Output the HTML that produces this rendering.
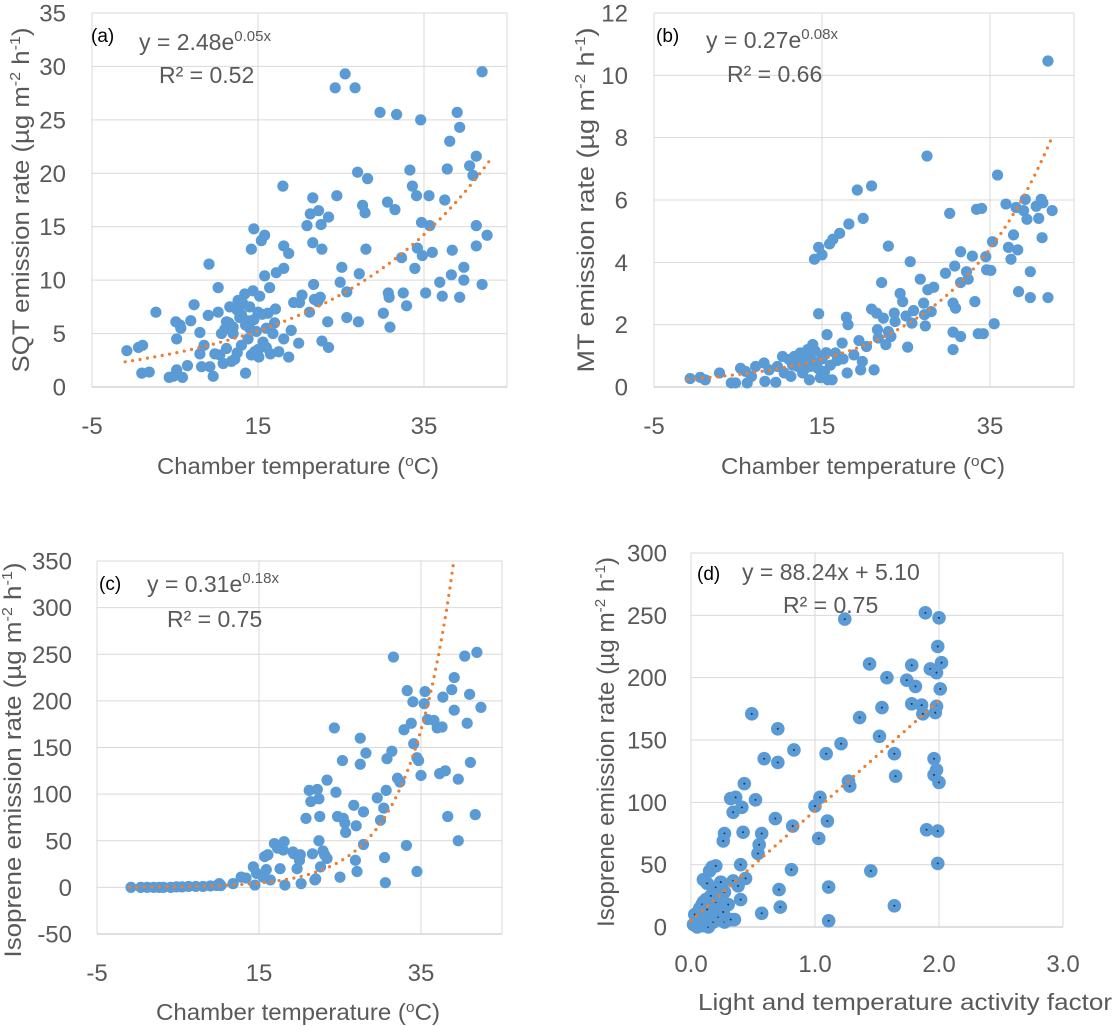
<!DOCTYPE html>
<html><head><meta charset="utf-8">
<style>
html,body{margin:0;padding:0;background:#fff;}
svg{display:block;font-family:"Liberation Sans",sans-serif;}
</style></head>
<body>
<svg id="fig" width="1113" height="1026" viewBox="0 0 1113 1026" xmlns="http://www.w3.org/2000/svg"></svg>
<script>
// ---- Panel (a) data: SQT vs chamber temperature ----
const aTemp = [-0.8,0.6,1.1,1.0,1.9,2.7,4.3,4.8,5.2,5.1,5.6,5.7,5.2,5.9,6.5,6.9,7.3,8.0,8.0,8.2,8.5,9.0,9.1,9.2,9.6,10.2,10.2,10.6,10.4,9.8,11.2,11.6,11.2,12.0,12.2,12.6,12.8,13.0,13.5,13.4,13.7,14.0,14.2,14.5,14.4,14.6,15.1,15.4,15.8,15.8,15.6,16.0,16.4,16.8,17.1,17.2,18.0,18.1,18.1,18.7,18.1,18.7,19.3,19.9,20.3,20.9,21.3,21.6,21.6,21.7,21.2,22.3,22.6,22.7,22.5,22.7,23.5,23.5,23.4,24.3,24.5,24.9,25.1,25.5,25.7,25.7,26.7,27.0,27.1,27.2,27.6,27.9,28.0,28.2,29.7,30.1,30.6,30.7,30.8,30.9,31.5,31.7,32.3,32.5,32.9,33.3,33.6,33.9,34.1,34.2,34.6,34.7,34.8,35.2,35.6,35.7,36.0,36.9,37.2,37.5,37.8,38.1,38.3,38.4,39.0,39.3,39.3,39.8,39.8,40.5,40.9,41.3,41.3,41.3,42.0,42.0,42.6,11.5,12.5,13,13.5,14,14.5,15,15.5,13.2,12,14.8,16,11,13.8,15.2,16.2,17,14.2,15,12.5,11.8,10.8,16.5,17.5,19,20,21.8,22.2];
const aRate = [3.4,3.7,3.9,1.3,1.4,7.0,0.9,1.0,1.6,6.1,5.8,5.5,4.5,0.9,2.0,6.2,7.7,5.1,3.1,1.9,3.9,6.7,11.5,1.9,1.0,9.3,7.0,5.0,3.0,3.1,3.6,7.5,6.1,5.6,2.6,8.1,6.5,3.9,1.3,8.7,6.2,5.5,12.9,14.8,9.0,3.3,2.8,13.7,14.2,10.4,4.2,3.7,9.3,5.0,7.3,10.7,18.8,13.2,11.1,12.5,4.5,2.8,7.9,4.1,8.6,15.1,16.2,17.7,13.5,9.6,7.0,16.5,15.2,12.9,8.4,4.3,3.7,15.9,6.1,28.0,17.9,9.8,11.2,29.3,8.9,6.5,28.0,20.1,6.1,10.6,17.0,16.3,12.9,19.5,25.7,6.9,17.3,8.8,8.4,5.6,16.6,25.5,12.1,8.8,7.6,20.3,18.8,11.1,17.9,13.0,25.0,15.4,12.3,8.8,17.9,15.1,12.6,9.8,8.5,17.5,20.4,23.0,10.5,12.8,25.7,24.3,8.4,11.2,10.0,20.7,19.8,21.6,15.1,13.2,29.5,9.6,14.2,6.0,7.2,6.8,5.8,7.5,6.3,7.0,6.8,7.8,5.0,5.2,5.5,5.4,4.5,8.5,6.9,6.0,3.0,3.5,3.2,2.4,2.2,3.1,3.3,5.3,7.9,8.2,8.0];
// ---- Panel (b) data: MT vs chamber temperature ----
const bTemp = [-0.7,0.5,1.1,2.8,4.2,4.7,5.3,5.9,6.1,6.6,7.1,8.1,8.2,8.7,9.5,9.7,10.3,10.5,11.1,11.3,11.7,12.1,12.4,12.7,13.1,13.3,13.5,13.6,13.9,14.1,14.6,14.6,15.0,15.1,15.6,15.7,15.9,16.2,16.3,16.6,17.1,17.4,17.9,18.1,18.0,18.2,18.8,19.2,19.4,19.6,19.8,19.9,20.3,20.9,20.9,21.2,21.5,21.6,21.7,22.1,22.3,22.6,22.9,22.9,23.2,23.6,23.7,24.3,24.6,25.0,25.2,25.5,25.7,25.9,26.7,27.1,27.2,27.3,27.5,27.6,28.0,28.3,29.7,30.2,30.6,30.6,30.6,30.8,30.9,31.5,31.5,31.5,32.2,32.4,32.9,33.2,33.4,33.6,34.0,34.2,34.5,34.6,35.1,35.3,35.5,35.9,36.9,37.2,37.5,37.8,38.1,38.3,38.4,39.0,39.2,39.4,39.8,39.8,40.5,40.8,41.1,41.2,41.3,41.9,41.9,42.4,12,12.8,13.5,14,14.5,15,15.5,16,14.2,13,11.5,16.8,17.5,15.3,14.8];
const bRate = [0.27,0.31,0.23,0.45,0.13,0.13,0.6,0.5,0.13,0.34,0.66,0.77,0.18,0.55,0.15,0.66,0.98,0.45,0.88,0.34,0.98,0.66,1.09,0.45,0.88,1.2,0.23,0.66,1.36,4.1,4.48,2.35,4.24,0.98,1.68,0.23,4.59,0.23,4.74,1.09,4.93,1.41,2.24,2.0,0.45,5.23,1.03,6.32,1.49,0.55,0.82,5.41,1.3,6.45,2.5,0.55,2.37,1.84,1.57,3.35,2.21,1.36,4.52,1.78,1.62,2.37,2.1,3.0,2.74,2.28,1.28,4.02,2.05,2.45,3.46,2.69,2.32,1.96,7.41,3.12,2.42,3.2,3.65,5.57,2.69,1.76,1.2,3.88,2.53,1.62,4.34,3.35,3.7,3.46,4.2,2.74,5.7,1.71,5.73,1.71,4.18,3.76,3.74,4.66,2.03,6.8,5.87,4.48,4.1,4.88,5.76,4.4,3.06,5.66,6.02,5.38,3.7,2.87,5.8,5.41,6.02,4.79,5.91,2.87,10.46,5.66,0.8,0.95,1.0,0.8,0.6,0.9,1.1,0.7,1.15,0.6,0.7,0.85,0.9,0.5,0.3];
// ---- Panel (c) data: isoprene vs chamber temperature ----
const cTemp = [-0.8,0.4,1.2,2.0,2.7,3.2,4.1,4.8,5.5,6.3,7.2,8.1,9.0,9.8,10.3,10.1,11.8,12.8,13.4,14.3,14.7,14.5,15.7,16.1,15.5,15.9,16.4,16.9,17.3,17.6,18.1,18.0,18.2,19.2,19.3,19.7,20.0,20.1,20.2,20.8,21.2,21.4,21.6,21.9,22.0,22.2,22.4,22.5,22.4,22.6,22.9,23.1,23.4,23.4,24.3,24.5,24.7,25.0,25.3,25.4,25.6,25.7,26.7,26.9,27.0,27.1,27.5,27.5,27.9,27.9,28.2,29.6,30.0,30.4,30.5,30.6,30.7,30.8,31.4,31.6,32.1,32.4,32.9,33.2,33.3,33.8,34.0,34.1,34.5,34.5,34.7,35.0,35.4,35.5,35.8,36.6,37.0,37.3,37.6,37.7,38.0,38.3,38.8,39.1,39.1,39.6,39.6,40.4,40.7,41.0,41.1,41.7,41.9,42.4];
const cRate = [0,0,0,0,0,0,0,0.5,0.5,1,1,1,1.5,2,2,4,4,11,10,22,15,2.5,33,35,11,19,8,47,42,20,49,40,2.5,38,36,20,29,35,4,74,104,92,36,8,9,105,95,76,50,22,39,35,31,115,171,102,76,11,136,74,69,59,88,29,66,17,160,132,46,81,144,96,72,85,32,5,104,138,146,247,117,113,169,45,211,176,199,154,17,139,136,120,197,210,180,179,171,122,172,204,125,76,212,225,190,116,50,248,176,207,134,78,252,193];
// ---- Panel (d) data: isoprene vs activity factor ----
const dFactor = [0.49,0.70,0.83,0.59,0.70,0.43,0.32,0.36,0.52,0.41,0.34,0.68,0.82,0.42,0.57,0.27,0.26,0.55,0.54,0.40,0.81,0.44,0.34,0.38,0.71,0.40,0.72,0.57,0.35,1.24,1.44,1.58,1.21,1.09,1.36,1.04,1.00,1.27,1.28,1.10,1.03,1.52,1.54,1.45,1.11,1.11,1.64,1.65,1.64,1.74,1.78,1.81,1.78,1.86,1.87,1.89,1.93,1.98,2.00,1.99,2.02,2.01,1.98,1.97,1.96,1.98,1.96,2.00,1.90,1.99,1.99,0.02,0.04,0.06,0.08,0.1,0.1,0.13,0.15,0.17,0.2,0.05,0.08,0.12,0.15,0.18,0.2,0.22,0.25,0.27,0.1,0.14,0.18,0.22,0.26,0.27,0.03,0.07,0.12,0.16,0.2,0.24,0.09,0.13,0.3,0.32];
const dRate = [171,159,142,135,132,115,103,104,102,96,92,87,81,76,75,75,69,66,59,50,46,39,37,33,30,22,16,11,6,247,211,200,147,139,168,104,97,117,113,85,71,153,176,45,32,5,17,121,139,198,210,193,179,178,171,252,207,204,248,225,212,191,177,172,135,126,122,116,78,77,51,2,5,8,12,20,38,35,45,48,49,0,3,6,10,15,20,25,35,28,1,0,4,8,12,4,10,15,22,25,32,36,18,14,18,6];
// ---- axis tick labels ----
const tempTicks = [-5,15,35];
const aYTicks = [0,5,10,15,20,25,30,35];
const bYTicks = [0,2,4,6,8,10,12];
const cYTicks = [-50,0,50,100,150,200,250,300,350];
const dYTicks = [0,50,100,150,200,250,300];
const dXTicks = [0,1,2,3];

const NS = "http://www.w3.org/2000/svg";
const svg = document.getElementById('fig');
function el(tag, attrs, parent){
  const e = document.createElementNS(NS, tag);
  for (const k in attrs) e.setAttribute(k, attrs[k]);
  (parent||svg).appendChild(e);
  return e;
}
const TXT = "#595959", PT = "#5b9bd5", TR = "#ed7d31", GRID = "#d9d9d9";

function panel(cfg){
  const g = el('g', {});
  
  
  const sx = v => cfg.x0 + (v - cfg.xmin) / (cfg.xmax - cfg.xmin) * (cfg.x1 - cfg.x0);
  const sy = v => cfg.y0 - (v - cfg.ymin) / (cfg.ymax - cfg.ymin) * (cfg.y0 - cfg.y1);
  cfg.yTicks.forEach(t => {
    const ln = el('line', {x1: sx(cfg.xmin), x2: sx(cfg.xmax), y1: sy(t), y2: sy(t), stroke: (t===cfg.ymin)?"#bfbfbf":GRID, 'stroke-width': 1}, g);
    
    
    const tx = el('text', {x: cfg.yLabX, y: sy(t) + 8.5, 'text-anchor': 'end', 'font-size': 24, fill: TXT}, g);
    tx.textContent = (t < 0 ? '-' : '') + Math.abs(t).toFixed(cfg.yDec||0);
    
    
  });
  cfg.xTicks.forEach(t => {
    const ln = el('line', {x1: sx(t), x2: sx(t), y1: sy(cfg.ymin), y2: sy(cfg.ymax), stroke: GRID, 'stroke-width': 1}, g);
    
    
    const tx = el('text', {x: sx(t), y: cfg.xLabY, 'text-anchor': 'middle', 'font-size': 24, fill: TXT}, g);
    tx.textContent = t.toFixed(cfg.xDec||0);
    
    
  });
  el('line', {x1: sx(cfg.xmax), x2: sx(cfg.xmax), y1: sy(cfg.ymin), y2: sy(cfg.ymax), stroke: GRID}, g);
  cfg.xs.forEach((xv, i) => {
    const c = el('circle', {cx: sx(xv), cy: sy(cfg.ys[i]), r: cfg.r, fill: PT}, g);
    
    
    if (cfg.centerDot) el('circle', {cx: sx(xv), cy: sy(cfg.ys[i]), r: 1, fill: '#1f3550'}, g);
  });
  let d = '';
  for (let k = 0; k <= 200; k++){
    const xv = cfg.tFrom + (cfg.tTo - cfg.tFrom) * k / 200;
    let yv = cfg.trend(xv);
    if (yv > cfg.ymax) { yv = cfg.ymax; d += (d ? 'L' : 'M') + sx(xv).toFixed(1) + ',' + sy(yv).toFixed(1); break; }
    d += (d ? 'L' : 'M') + sx(xv).toFixed(1) + ',' + sy(yv).toFixed(1);
  }
  const p = el('path', {d: d, fill: 'none', stroke: TR, 'stroke-width': 3.2, 'stroke-linecap': 'round', 'stroke-dasharray': '0 7.5'}, g);
  
  
  const xt = el('text', {x: cfg.xTitleX, y: cfg.xTitleY, 'text-anchor': 'middle', 'font-size': 23, fill: TXT, textLength: cfg.xTitleLen, lengthAdjust: 'spacingAndGlyphs'}, g);
  xt.innerHTML = cfg.xTitle;
  
  
  const yt = el('text', {x: 0, y: 0, 'text-anchor': 'middle', 'font-size': 24, fill: TXT, transform: `translate(${cfg.yTitleX},${cfg.yTitleY}) rotate(-90)`, textLength: cfg.yTitleLen, lengthAdjust: 'spacingAndGlyphs'}, g);
  yt.innerHTML = cfg.yTitle;
  
  
  const pl = el('text', {x: cfg.labX, y: cfg.labY, 'font-size': 19, fill: '#000'}, g);
  pl.textContent = cfg.label;
  
  
  const eq = el('text', {x: cfg.eqX, y: cfg.eqY, 'font-size': 23, fill: TXT}, g);
  eq.innerHTML = cfg.eq;
  
  
  const r2 = el('text', {x: cfg.r2X, y: cfg.r2Y, 'font-size': 23, fill: TXT}, g);
  r2.innerHTML = cfg.r2;
  
  
}

const unitTitle = (name) => `${name} emission rate (µg m<tspan font-size="15" dy="-9">-2</tspan><tspan dy="9"> h</tspan><tspan font-size="15" dy="-9">-1</tspan><tspan dy="9">)</tspan>`;
const tempTitle = `Chamber temperature (<tspan font-size="15" dy="-8">o</tspan><tspan dy="8">C)</tspan>`;

panel({name:'panel-a-sqt', xs:aTemp, ys:aRate, xmin:-5, xmax:45, ymin:0, ymax:35, x0:92, x1:507, y0:387, y1:13,
  xTicks:tempTicks, yTicks:aYTicks, yLabX:66, xLabY:434, r:5.6,
  trend:x=>2.48*Math.exp(0.05*x), tFrom:-1, tTo:43,
  xTitle:tempTitle, xTitleX:298, xTitleY:474, xTitleLen:282,
  yTitle:unitTitle('SQT'), yTitleX:29, yTitleY:200, yTitleLen:345,
  label:'(a)', labX:91, labY:42, eq:'y = 2.48e'+`<tspan font-size="15" dy="-9">0.05x</tspan>`, eqX:139, eqY:50,
  r2:'R² = 0.52', r2X:159, r2Y:83});

panel({name:'panel-b-mt', xs:bTemp, ys:bRate, xmin:-5, xmax:45, ymin:0, ymax:12, x0:654, x1:1074, y0:387, y1:13,
  xTicks:tempTicks, yTicks:bYTicks, yLabX:628, xLabY:434, r:5.6,
  trend:x=>0.27*Math.exp(0.08*x), tFrom:-1, tTo:42.3,
  xTitle:tempTitle, xTitleX:863, xTitleY:474, xTitleLen:284,
  yTitle:unitTitle('MT'), yTitleX:594, yTitleY:200, yTitleLen:345,
  label:'(b)', labX:656, labY:42, eq:'y = 0.27e'+`<tspan font-size="15" dy="-9">0.08x</tspan>`, eqX:706, eqY:48,
  r2:'R² = 0.66', r2X:727, r2Y:82});

panel({name:'panel-c-isoprene-temp', xs:cTemp, ys:cRate, xmin:-5, xmax:45, ymin:-50, ymax:350, x0:97, x1:502, y0:934, y1:561,
  xTicks:tempTicks, yTicks:cYTicks, yLabX:72, xLabY:981, r:5.6,
  trend:x=>0.31*Math.exp(0.18*x), tFrom:-1, tTo:40,
  xTitle:tempTitle, xTitleX:298, xTitleY:1020, xTitleLen:284,
  yTitle:unitTitle('Isoprene'), yTitleX:21, yTitleY:760, yTitleLen:395,
  label:'(c)', labX:99, labY:590, eq:'y = 0.31e'+`<tspan font-size="15" dy="-9">0.18x</tspan>`, eqX:147, eqY:592,
  r2:'R² = 0.75', r2X:167, r2Y:627});

panel({name:'panel-d-isoprene-factor', xs:dFactor, ys:dRate, xmin:0, xmax:3, ymin:0, ymax:300, x0:691, x1:1063, y0:927, y1:553,
  xTicks:dXTicks, yTicks:dYTicks, yLabX:667, xLabY:972, r:6.8, centerDot:true, xDec:1,
  trend:x=>88.24*x+5.10, tFrom:0, tTo:2.02,
  xTitle:'Light and temperature activity factor', xTitleX:905, xTitleY:1010, xTitleLen:414,
  yTitle:unitTitle('Isoprene'), yTitleX:614, yTitleY:742, yTitleLen:370,
  label:'(d)', labX:697, labY:580, eq:'y = 88.24x + 5.10', eqX:742, eqY:580,
  r2:'R² = 0.75', r2X:783, r2Y:613});
</script>
</body></html>
